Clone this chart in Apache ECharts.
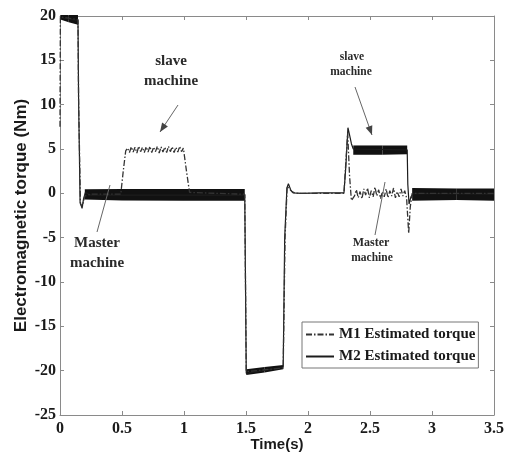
<!DOCTYPE html>
<html>
<head>
<meta charset="utf-8">
<script src="https://cdn.jsdelivr.net/npm/echarts@6/dist/echarts.min.js"></script>
<style>
  html, body { margin: 0; padding: 0; background: #fff; }
  #chart { width: 511px; height: 454px; }
</style>
</head>
<body>
<div id="chart"></div>
<script>
// Axis ranges
const timeRange = [0, 3.5, 0.5];
const torqueRange = [-25, 20, 5];

// M2 estimated torque, main trace: [time (s), torque (Nm)]
const m2Torque = [
  [0, 19.8], [0.145, 19.5], [0.15, 10.5], [0.162, -1.0], [0.178, -1.7],
  [0.19, -0.6], [0.205, 0.1], [0.25, -0.2], [1.49, -0.2], [1.495, -0.1],
  [1.502, -20.3], [1.8, -19.6], [1.812, -5], [1.83, 0.6], [1.842, 1.1],
  [1.86, 0.4], [1.88, 0.05], [1.95, 0], [2.1, 0.05], [2.29, 0.05],
  [2.305, 3], [2.322, 7.4], [2.335, 6.6], [2.35, 5.6], [2.365, 5.0],
  [2.8, 4.9], [2.805, 1], [2.815, -1.2], [2.83, -0.4], [2.85, 0], [3.5, -0.1]
];

// M1 estimated torque: [time (s), torque (Nm)]
const m1Torque = [
  [0, 7.5], [0.003, 19.9], [0.145, 19.6], [0.15, 10.5], [0.165, -1.2],
  [0.18, -1.5], [0.2, -0.3], [0.25, -0.1], [0.49, -0.1], [0.51, 2.5],
  [0.53, 4.8],
  [0.545, 5.1], [0.56, 4.6], [0.575, 5.25], [0.59, 4.65], [0.605, 5.2],
  [0.62, 4.55], [0.635, 5.3], [0.65, 4.7], [0.665, 5.2], [0.68, 4.6],
  [0.695, 5.25], [0.71, 4.65], [0.725, 5.3], [0.74, 4.6], [0.755, 5.2],
  [0.77, 4.7], [0.785, 5.3], [0.80, 4.55], [0.815, 5.25], [0.83, 4.65],
  [0.845, 5.2], [0.86, 4.6], [0.875, 5.3], [0.89, 4.7], [0.905, 5.25],
  [0.92, 4.6], [0.935, 5.2], [0.95, 4.65], [0.965, 5.3], [0.98, 4.7],
  [0.995, 5.1],
  [1.02, 2.5], [1.045, 0.1], [1.06, -0.1], [1.49, -0.1], [1.502, -20.1],
  [1.8, -19.7], [1.815, -5], [1.832, 0.8], [1.842, 1.0], [1.87, 0.2],
  [1.9, 0], [2.29, 0], [2.305, 3.5], [2.32, 6.8], [2.335, 2],
  [2.35, -0.8], [2.36, -1.0],
  [2.375, -0.3], [2.39, 0.4], [2.405, -0.5], [2.42, 0.2], [2.435, -0.6],
  [2.45, 0.5], [2.465, -0.2], [2.48, 0.6], [2.495, -0.5], [2.51, 0.3],
  [2.525, -0.4], [2.54, 0.7], [2.555, -0.3], [2.57, 0.4], [2.585, -0.6],
  [2.6, 0.2], [2.615, -0.4], [2.63, 0.5], [2.645, -0.5], [2.66, 0.3],
  [2.675, -0.3], [2.69, 0.6], [2.705, -0.5], [2.72, 0.2], [2.735, -0.4],
  [2.75, 0.5], [2.765, -0.3], [2.78, 0.3], [2.795, -0.5],
  [2.812, -4.5], [2.825, -1.5], [2.84, 0], [3.5, 0]
];

// Ripple envelopes of the switching noise: [time (s), low (Nm), high (Nm)]
const rippleStartup = [[0.003, 19.6, 20.1], [0.07, 19.3, 20.1], [0.145, 19.0, 20.1]];
const rippleMasterRun = [[0.2, -0.7, 0.45], [0.5, -0.8, 0.5], [1.0, -0.85, 0.5], [1.49, -0.85, 0.5]];
const rippleBraking = [[1.502, -20.5, -19.85], [1.65, -20.2, -19.6], [1.8, -19.85, -19.35]];
const rippleSlaveRun = [[2.365, 4.35, 5.4], [2.6, 4.35, 5.4], [2.8, 4.4, 5.4]];
const rippleFinal = [[2.84, -0.85, 0.6], [3.2, -0.75, 0.55], [3.5, -0.85, 0.55]];

// Turn envelope point lists into trapezoid segments [t0, lo0, hi0, t1, lo1, hi1]
function toSegments(env) {
  const out = [];
  for (let i = 0; i + 1 < env.length; i++) {
    out.push([env[i][0], env[i][1], env[i][2], env[i + 1][0], env[i + 1][1], env[i + 1][2]]);
  }
  return out;
}
const rippleSegments = [].concat(
  toSegments(rippleStartup), toSegments(rippleMasterRun), toSegments(rippleBraking),
  toSegments(rippleSlaveRun), toSegments(rippleFinal)
);

const serif = '"Liberation Serif", "Times New Roman", serif';
const sans = '"Liberation Sans", Arial, sans-serif';
const axisGray = '#8a8a8a';

const chart = echarts.init(document.getElementById('chart'), null, { renderer: 'canvas' });

// Arrow helper for annotation pointers (pixel space)
function arrow(x1, y1, x2, y2, head) {
  const items = [{
    type: 'line', silent: true, z: 50,
    shape: { x1, y1, x2, y2 },
    style: { stroke: '#666', lineWidth: 1 }
  }];
  if (head) {
    const dx = x2 - x1, dy = y2 - y1, len = Math.hypot(dx, dy);
    const ux = dx / len, uy = dy / len, L = 9, W = 3.5;
    items.push({
      type: 'polygon', silent: true, z: 50,
      shape: { points: [[x2, y2], [x2 - ux * L - uy * W, y2 - uy * L + ux * W], [x2 - ux * L + uy * W, y2 - uy * L - ux * W]] },
      style: { fill: '#444' }
    });
  }
  return items;
}
function label(text, x, y, size) {
  return {
    type: 'text', silent: true, z: 50, x, y,
    style: { text, font: 'bold ' + size + 'px ' + serif, fill: '#2a2a2a', align: 'center', verticalAlign: 'middle' }
  };
}

const tickStyle = { show: true, inside: true, length: 4, lineStyle: { color: axisGray } };

chart.setOption({
  animation: false,
  backgroundColor: '#fff',
  grid: { left: 60, right: 17, top: 16, bottom: 39, containLabel: false, outerBoundsMode: 'none' },
  xAxis: [{
    type: 'value', min: timeRange[0], max: timeRange[1], interval: timeRange[2],
    name: 'Time(s)', nameLocation: 'middle', nameGap: 22, nameMoveOverlap: false,
    nameTextStyle: { fontFamily: sans, fontWeight: 'bold', fontSize: 15, color: '#1a1a1a', verticalAlign: 'top' },
    axisLine: { show: true, onZero: false, lineStyle: { color: axisGray } },
    axisTick: tickStyle,
    axisLabel: { margin: 6, fontFamily: serif, fontWeight: 'bold', fontSize: 16, color: '#1a1a1a' },
    splitLine: { show: false }
  }, {
    type: 'value', position: 'top', min: timeRange[0], max: timeRange[1], interval: timeRange[2],
    axisLine: { show: true, onZero: false, lineStyle: { color: axisGray } },
    axisTick: tickStyle, axisLabel: { show: false }, splitLine: { show: false }
  }],
  yAxis: [{
    type: 'value', min: torqueRange[0], max: torqueRange[1], interval: torqueRange[2],
    name: 'Electromagnetic torque (Nm)', nameLocation: 'middle', nameGap: 30, nameMoveOverlap: false,
    nameTextStyle: { fontFamily: sans, fontWeight: 'bold', fontSize: 17, color: '#1a1a1a' },
    axisLine: { show: true, onZero: false, lineStyle: { color: axisGray } },
    axisTick: tickStyle,
    axisLabel: { margin: 4, fontFamily: serif, fontWeight: 'bold', fontSize: 16, color: '#1a1a1a' },
    splitLine: { show: false }
  }, {
    type: 'value', position: 'right', min: torqueRange[0], max: torqueRange[1], interval: torqueRange[2],
    axisLine: { show: true, onZero: false, lineStyle: { color: axisGray } },
    axisTick: tickStyle, axisLabel: { show: false }, splitLine: { show: false }
  }],
  legend: {
    data: ['M1 Estimated torque', 'M2 Estimated torque'],
    orient: 'vertical', left: 302, top: 322,
    itemWidth: 28, itemHeight: 16, itemGap: 7,
    padding: [5, 3, 4, 3],
    itemStyle: { opacity: 0 },
    borderColor: '#777', borderWidth: 1, backgroundColor: '#fff',
    textStyle: { fontFamily: serif, fontWeight: 'bold', fontSize: 15, color: '#1a1a1a' },
    selectedMode: false, z: 40
  },
  series: [{
    name: 'ripple',
    type: 'custom',
    data: rippleSegments,
    encode: { x: [0, 3], y: [1, 2, 4, 5] },
    z: 2,
    renderItem: function (params, api) {
      const a = api.coord([api.value(0), api.value(1)]);
      const b = api.coord([api.value(3), api.value(4)]);
      const c = api.coord([api.value(3), api.value(5)]);
      const d = api.coord([api.value(0), api.value(2)]);
      return { type: 'polygon', shape: { points: [a, b, c, d] }, style: { fill: '#111' } };
    }
  }, {
    name: 'M2 Estimated torque',
    type: 'line', data: m2Torque, symbol: 'none', z: 3,
    lineStyle: { color: '#1c1c1c', width: 1.2 }, itemStyle: { color: '#1c1c1c' }
  }, {
    name: 'M1 Estimated torque',
    type: 'line', data: m1Torque, symbol: 'none', z: 4,
    lineStyle: { color: '#333', width: 1.3, type: [6, 2, 1.5, 2] }, itemStyle: { color: '#333' }
  }],
  graphic: [].concat(
    [label('slave', 171, 61, 15), label('machine', 171, 81, 15)],
    arrow(178, 105, 160, 132, true),
    [label('Master', 97, 243, 15), label('machine', 97, 263, 15)],
    arrow(97, 232, 110, 185, false),
    [label('slave', 352, 57, 11.5), label('machine', 351, 72, 11.5)],
    arrow(355, 87, 372, 135, true),
    [label('Master', 371, 243, 12), label('machine', 372, 258, 11.5)],
    arrow(375, 235, 385, 182, false)
  )
});
</script>
</body>
</html>
